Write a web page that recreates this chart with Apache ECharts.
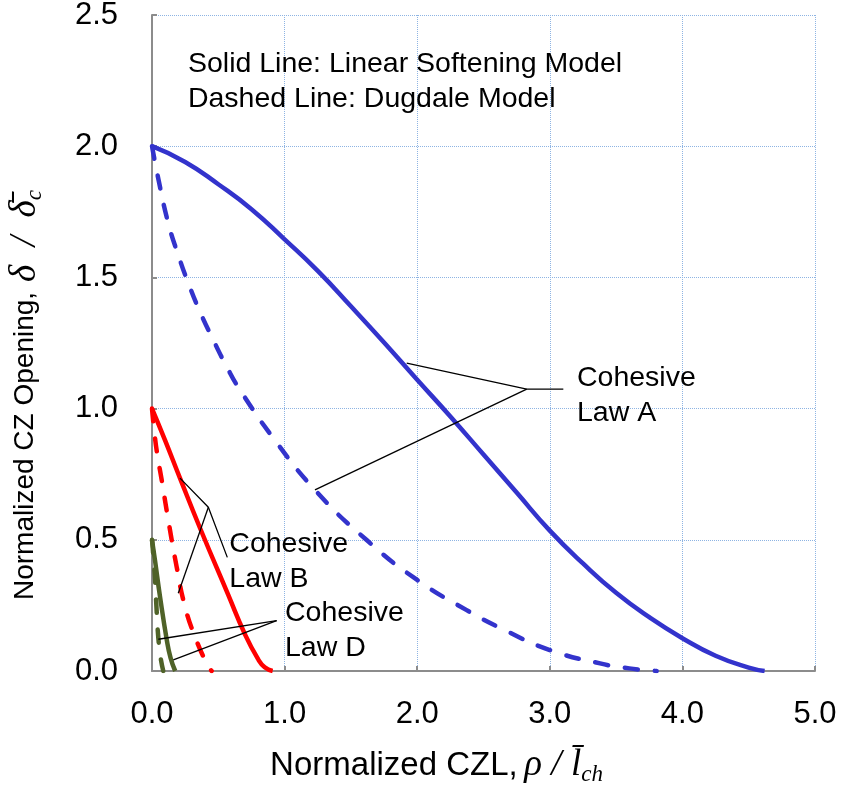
<!DOCTYPE html>
<html>
<head>
<meta charset="utf-8">
<script src="https://cdn.jsdelivr.net/npm/echarts@6/dist/echarts.min.js"></script>
<style>
  html, body { margin: 0; padding: 0; background: #ffffff; }
  #chart { width: 842px; height: 791px; }
</style>
</head>
<body>
<div id="chart"></div>
<script>
// Normalized cohesive-zone opening along the cohesive zone, [rho / l_ch, delta / delta_c]

// Cohesive law A
const lawA_linear = [[0, 2.0], [0.25, 1.94], [0.5, 1.855], [0.75, 1.76], [1.0, 1.645], [1.25, 1.525],
  [1.5, 1.39], [1.75, 1.252], [2.0, 1.11], [2.25, 0.97], [2.5, 0.825], [2.75, 0.68], [3.0, 0.535],
  [3.25, 0.41], [3.5, 0.298], [3.75, 0.205], [4.0, 0.125], [4.25, 0.058], [4.5, 0.013], [4.62, 0]];
const lawA_dugdale = [[0, 2.0], [0.05, 1.87], [0.123, 1.706], [0.198, 1.585], [0.274, 1.478],
  [0.362, 1.369], [0.45, 1.274], [0.563, 1.16], [0.664, 1.071], [0.9, 0.898], [1.229, 0.69],
  [1.619, 0.499], [2.0, 0.347], [2.373, 0.232], [2.65, 0.158], [3.0, 0.08], [3.379, 0.029],
  [3.6, 0.01], [3.806, 0]];

// Cohesive law B
const lawB_linear = [[0, 1.0], [0.098, 0.88], [0.211, 0.735], [0.362, 0.545], [0.575, 0.29],
  [0.701, 0.14], [0.8, 0.045], [0.85, 0.014], [0.91, 0]];
const lawB_dugdale = [[0, 1.0], [0.02, 0.9], [0.04, 0.825], [0.073, 0.728], [0.123, 0.575],
  [0.186, 0.397], [0.249, 0.245], [0.324, 0.131], [0.412, 0.029], [0.45, 0]];

// Cohesive law D
const lawD_linear = [[0, 0.5], [0.023, 0.42], [0.06, 0.285], [0.111, 0.12], [0.14, 0.05], [0.175, 0]];
const lawD_dugdale = [[0, 0.5], [0.01, 0.44], [0.023, 0.347], [0.035, 0.23], [0.048, 0.125], [0.065, 0.05], [0.085, 0]];

// Leader lines from each label to its pair of curves
const leaderA1 = [[1.921, 1.173], [2.826, 1.074], [3.102, 1.074]];
const leaderA2 = [[1.229, 0.69], [2.826, 1.074]];
const leaderB1 = [[0.211, 0.735], [0.425, 0.624], [0.568, 0.433]];
const leaderB2 = [[0.198, 0.296], [0.425, 0.624]];
const leaderD1 = [[0.048, 0.121], [0.94, 0.192]];
const leaderD2 = [[0.161, 0.042], [0.94, 0.192]];

// Text blocks, anchored at their top-left corner
const noteTexts = ['Solid Line: Linear Softening Model\nDashed Line: Dugdale Model',
  'Cohesive\nLaw A', 'Cohesive\nLaw B', 'Cohesive\nLaw D'];
const notePositions = [[0.271, 2.378], [3.205, 1.181], [0.583, 0.549], [1.003, 0.286]];

const BLUE = '#3333cc', RED = '#ff0000', GREEN = '#4f6228';
const SANS = 'Liberation Sans, Arial, sans-serif';
const SERIF = 'Liberation Serif, Times New Roman, serif';

function curve(name, data, color, dashed) {
  return {
    type: 'line', name: name, data: data, symbol: 'none', showSymbol: false,
    smooth: 0.5, silent: true, z: 3,
    lineStyle: { color: color, width: 4.5, type: dashed ? [13, 17] : 'solid', cap: dashed ? 'round' : 'butt' }
  };
}
function leader(data) {
  return {
    type: 'line', data: data, symbol: 'none', showSymbol: false, silent: true, z: 4,
    lineStyle: { color: '#000000', width: 1.3 }
  };
}

const chart = echarts.init(document.getElementById('chart'), null, { renderer: 'canvas' });
chart.setOption({
  animation: false,
  backgroundColor: '#ffffff',
  grid: { left: 152, right: 27, top: 15, bottom: 120, containLabel: false, outerBoundsMode: 'none' },
  xAxis: {
    type: 'value', min: 0, max: 5, interval: 1,
    name: '{t|Normalized CZL,}  {m|ρ / l\u0304}{s|ch}',
    nameLocation: 'middle', nameGap: 74,
    nameTextStyle: {
      padding: [0, 94, 0, 0],
      rich: {
        t: { fontFamily: SANS, fontSize: 33, color: '#000' },
        m: { fontFamily: SERIF, fontStyle: 'italic', fontSize: 37, color: '#000' },
        s: { fontFamily: SERIF, fontStyle: 'italic', fontSize: 23, color: '#000', padding: [18, 0, 0, 0] }
      }
    },
    axisLine: { lineStyle: { color: '#8c8c8c', width: 2 } },
    axisTick: { inside: true, length: 5, lineStyle: { color: '#8c8c8c', width: 2 } },
    axisLabel: { fontFamily: SANS, fontSize: 31, color: '#000', margin: 28, formatter: v => v.toFixed(1) },
    splitLine: { show: true, lineStyle: { color: '#8eb4e3', type: 'dotted', width: 1 } }
  },
  yAxis: {
    type: 'value', min: 0, max: 2.5, interval: 0.5,
    name: '{t|Normalized CZ Opening,}   {m|δ  /  δ\u0304}{s|c}',
    nameLocation: 'middle', nameRotate: 90, nameGap: 106,
    nameTextStyle: {
      padding: [0, 104, 0, 0],
      rich: {
        t: { fontFamily: SANS, fontSize: 28, color: '#000' },
        m: { fontFamily: SERIF, fontStyle: 'italic', fontSize: 37, color: '#000' },
        s: { fontFamily: SERIF, fontStyle: 'italic', fontSize: 23, color: '#000', padding: [18, 0, 0, 0] }
      }
    },
    axisLine: { show: true, lineStyle: { color: '#8c8c8c', width: 2 } },
    axisTick: { show: true, inside: true, length: 5, lineStyle: { color: '#8c8c8c', width: 2 } },
    axisLabel: { fontFamily: SANS, fontSize: 31, color: '#000', margin: 34, formatter: v => v.toFixed(1) },
    splitLine: { show: true, lineStyle: { color: '#8eb4e3', type: 'dotted', width: 1 } }
  },
  series: [
    curve('Law A linear softening', lawA_linear, BLUE, false),
    curve('Law A Dugdale', lawA_dugdale, BLUE, true),
    curve('Law B linear softening', lawB_linear, RED, false),
    curve('Law B Dugdale', lawB_dugdale, RED, true),
    curve('Law D linear softening', lawD_linear, GREEN, false),
    curve('Law D Dugdale', lawD_dugdale, GREEN, true),
    leader(leaderA1), leader(leaderA2),
    leader(leaderB1), leader(leaderB2),
    leader(leaderD1), leader(leaderD2),
    {
      type: 'scatter', symbolSize: 0, silent: true, z: 5,
      itemStyle: { opacity: 1 },
      data: noteTexts.map((t, i) => ({ name: t, value: notePositions[i] })),
      label: {
        show: true, position: [0, 0], align: 'left', verticalAlign: 'top', opacity: 1,
        formatter: '{b}', fontFamily: SANS, fontSize: 28.5, lineHeight: 35, color: '#000000'
      }
    }
  ]
});
</script>
</body>
</html>
